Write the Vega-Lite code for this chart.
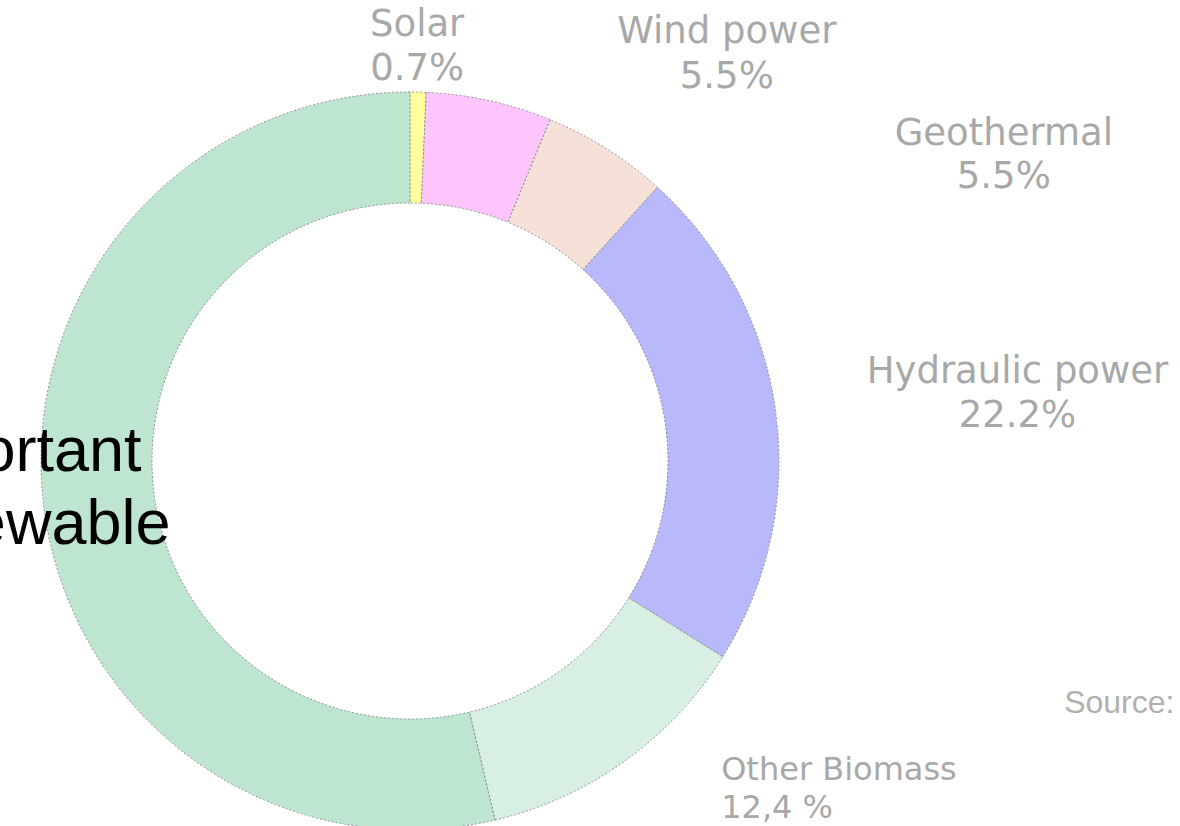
{
  "$schema": "https://vega.github.io/schema/vega-lite/v6.json",
  "width": 820,
  "height": 730,
  "autosize": "none",
  "padding": {"left": 0, "top": 96, "right": 360, "bottom": 0},
  "background": "white",
  "config": {"view": {"stroke": null}},
  "data": {
    "values": [
      {"source": "Solar", "share": 0.7, "label": "Solar\n0.7%"},
      {"source": "Wind power", "share": 5.5, "label": "Wind power\n5.5%"},
      {"source": "Geothermal", "share": 5.5, "label": "Geothermal\n5.5%"},
      {"source": "Hydraulic power", "share": 22.2, "label": "Hydraulic power\n22.2%"},
      {"source": "Other Biomass", "share": 12.4, "label": "Other Biomass\n12,4 %"},
      {"source": "Wood", "share": 53.7, "label": "Wood\n53.7%"}
    ]
  },
  "transform": [{"window": [{"op": "row_number", "as": "idx"}]}],
  "encoding": {
    "theta": {"field": "share", "type": "quantitative", "stack": true},
    "order": {"field": "idx", "type": "quantitative"}
  },
  "layer": [
    {
      "mark": {"type": "arc", "outerRadius": 369, "innerRadius": 258, "stroke": "#7a7a7a", "strokeWidth": 0.8, "strokeDash": [2, 2]},
      "encoding": {
        "color": {
          "field": "source",
          "type": "nominal",
          "legend": null,
          "scale": {
            "domain": ["Solar", "Wind power", "Geothermal", "Hydraulic power", "Other Biomass", "Wood"],
            "range": ["#ffffa0", "#fcc6fc", "#f5e1d7", "#b8b8fa", "#d8efe3", "#bde5d0"]
          }
        }
      }
    },
    {
      "mark": {"type": "text", "radius": 371, "dx": -1, "dy": -54, "align": "center", "baseline": "alphabetic", "lineBreak": "\n", "lineHeight": 44, "font": "DejaVu Sans", "fontSize": 37, "fill": "#a8a8a8"},
      "encoding": {
        "detail": {"field": "source", "type": "nominal"},
        "text": {"condition": {"test": "datum.source === 'Solar'", "field": "label", "type": "nominal"}, "value": ""}
      }
    },
    {
      "mark": {"type": "text", "radius": 371, "dx": 237, "dy": -56, "align": "center", "baseline": "alphabetic", "lineBreak": "\n", "lineHeight": 45, "font": "DejaVu Sans", "fontSize": 37, "fill": "#a8a8a8"},
      "encoding": {
        "detail": {"field": "source", "type": "nominal"},
        "text": {"condition": {"test": "datum.source === 'Wind power'", "field": "label", "type": "nominal"}, "value": ""}
      }
    },
    {
      "mark": {"type": "text", "radius": 371, "dx": 396, "dy": -2, "align": "center", "baseline": "alphabetic", "lineBreak": "\n", "lineHeight": 43, "font": "DejaVu Sans", "fontSize": 37, "fill": "#a8a8a8"},
      "encoding": {
        "detail": {"field": "source", "type": "nominal"},
        "text": {"condition": {"test": "datum.source === 'Geothermal'", "field": "label", "type": "nominal"}, "value": ""}
      }
    },
    {
      "mark": {"type": "text", "radius": 371, "dx": 240, "dy": -27, "align": "center", "baseline": "alphabetic", "lineBreak": "\n", "lineHeight": 44, "font": "DejaVu Sans", "fontSize": 37, "fill": "#a8a8a8"},
      "encoding": {
        "detail": {"field": "source", "type": "nominal"},
        "text": {"condition": {"test": "datum.source === 'Hydraulic power'", "field": "label", "type": "nominal"}, "value": ""}
      }
    },
    {
      "mark": {"type": "text", "radius": 371, "dx": 95, "dy": 17, "align": "left", "baseline": "alphabetic", "lineBreak": "\n", "lineHeight": 38, "font": "DejaVu Sans", "fontSize": 32, "fill": "#a8a8a8"},
      "encoding": {
        "detail": {"field": "source", "type": "nominal"},
        "text": {"condition": {"test": "datum.source === 'Other Biomass'", "field": "label", "type": "nominal"}, "value": ""}
      }
    },
    {
      "mark": {"type": "text", "radius": 371, "dx": 438, "dy": -50, "align": "left", "baseline": "alphabetic", "font": "Liberation Sans", "fontSize": 32, "fill": "#b0b0b0"},
      "encoding": {
        "detail": {"field": "source", "type": "nominal"},
        "text": {"condition": {"test": "datum.source === 'Other Biomass'", "value": "Source:"}, "value": ""}
      }
    },
    {
      "mark": {"type": "text", "radius": 371, "dx": 100, "dy": -33, "align": "right", "baseline": "alphabetic", "font": "Liberation Sans", "fontSize": 63, "fill": "black"},
      "encoding": {
        "detail": {"field": "source", "type": "nominal"},
        "text": {"condition": {"test": "datum.source === 'Wood'", "value": "Wood is the most important"}, "value": ""}
      }
    },
    {
      "mark": {"type": "text", "radius": 371, "dx": 129, "dy": 40, "align": "right", "baseline": "alphabetic", "font": "Liberation Sans", "fontSize": 63, "fill": "black"},
      "encoding": {
        "detail": {"field": "source", "type": "nominal"},
        "text": {"condition": {"test": "datum.source === 'Wood'", "value": "source of renewable"}, "value": ""}
      }
    }
  ]
}
